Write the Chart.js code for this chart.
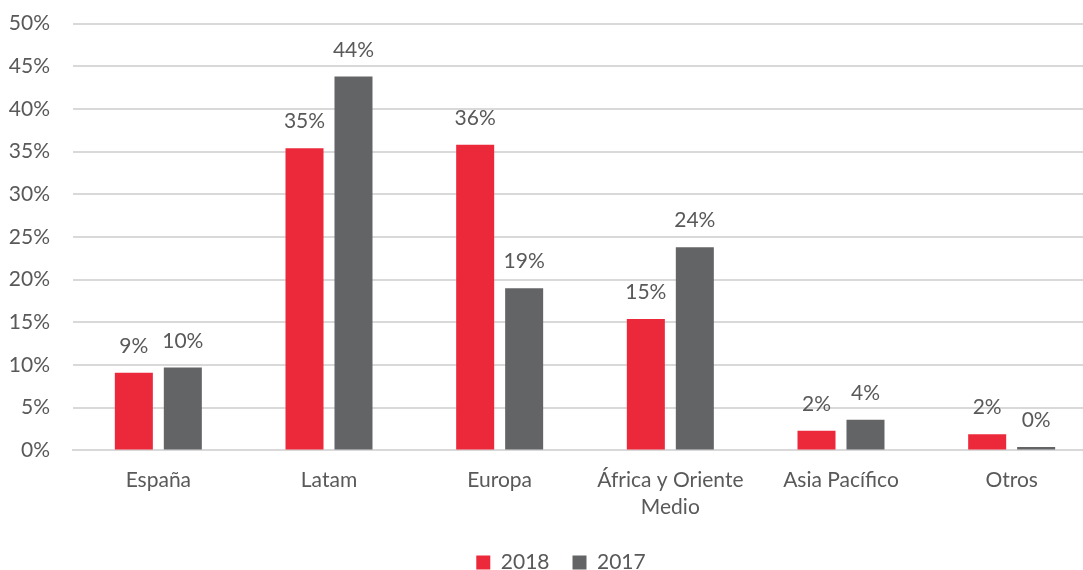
<!DOCTYPE html>
<html><head><meta charset="utf-8">
<script src="https://cdn.jsdelivr.net/npm/chart.js@4/dist/chart.umd.min.js"></script>
<style>html,body{margin:0;padding:0;background:#fff;overflow:hidden;}#wrap{width:1083px;height:570px;overflow:hidden;}</style>
</head><body><div id="wrap"><canvas id="c" width="1122" height="570"></canvas></div>
<script>
const categories = ["España", "Latam", "Europa", ["África y Oriente", "Medio"], "Asia Pacífico", "Otros"];
const values2018 = [9.1, 35.4, 35.8, 15.4, 2.3, 1.9];
const values2017 = [9.7, 43.8, 19.0, 23.8, 3.6, 0.4];
const labels2018 = ["9%", "35%", "36%", "15%", "2%", "2%"];
const labels2017 = ["10%", "44%", "19%", "24%", "4%", "0%"];
const yTicks = [0, 5, 10, 15, 20, 25, 30, 35, 40, 45, 50];

const FONT = "Lato, 'Open Sans', sans-serif";
const TXT = "#595959";
const FS = 21;

const dataLabels = {
  id: "dataLabels",
  afterDatasetsDraw(chart) {
    const ctx = chart.ctx;
    ctx.save();
    ctx.font = FS + "px " + FONT;
    ctx.fillStyle = TXT;
    ctx.textAlign = "center";
    ctx.textBaseline = "bottom";
    const texts = [labels2018, labels2017];
    chart.data.datasets.forEach((ds, i) => {
      chart.getDatasetMeta(i).data.forEach((bar, j) => {
        ctx.fillText(texts[i][j], bar.x, bar.y - 16);
      });
    });
    ctx.restore();
  }
};

new Chart(document.getElementById("c"), {
  type: "bar",
  data: {
    labels: categories,
    datasets: [
      { label: "2018", data: values2018, backgroundColor: "#EC293B", categoryPercentage: 0.574, barPercentage: 0.776 },
      { label: "2017", data: values2017, backgroundColor: "#636466", categoryPercentage: 0.574, barPercentage: 0.776 }
    ]
  },
  options: {
    responsive: false,
    animation: false,
    layout: { padding: { left: 0, right: 0, top: 0, bottom: -13 } },
    plugins: {
      legend: {
        position: "bottom",
        labels: { font: { size: FS, family: FONT }, color: TXT, boxWidth: 14, boxHeight: 14, padding: 23, useBorderRadius: false },
        onClick: null
      },
      tooltip: { enabled: false }
    },
    scales: {
      x: {
        afterFit(axis) { axis.paddingRight = 25; },
        grid: { display: false },
        border: { display: true, color: "#d9d9d9", width: 2 },
        ticks: { font: { size: FS, family: FONT, lineHeight: 1.3 }, color: TXT, padding: 8, maxRotation: 0, autoSkip: false }
      },
      y: {
        min: 0, max: 50,
        afterBuildTicks(axis) { axis.ticks = yTicks.map(v => ({ value: v })); },
        afterFit(axis) { axis.width = 73; },
        grid: { color: "#d9d9d9", lineWidth: 2, drawTicks: false },
        border: { display: false },
        ticks: { font: { size: FS, family: FONT, lineHeight: 0.05 }, color: TXT, padding: 23, callback: v => v + "%" }
      }
    }
  },
  plugins: [dataLabels]
});
</script></body></html>
